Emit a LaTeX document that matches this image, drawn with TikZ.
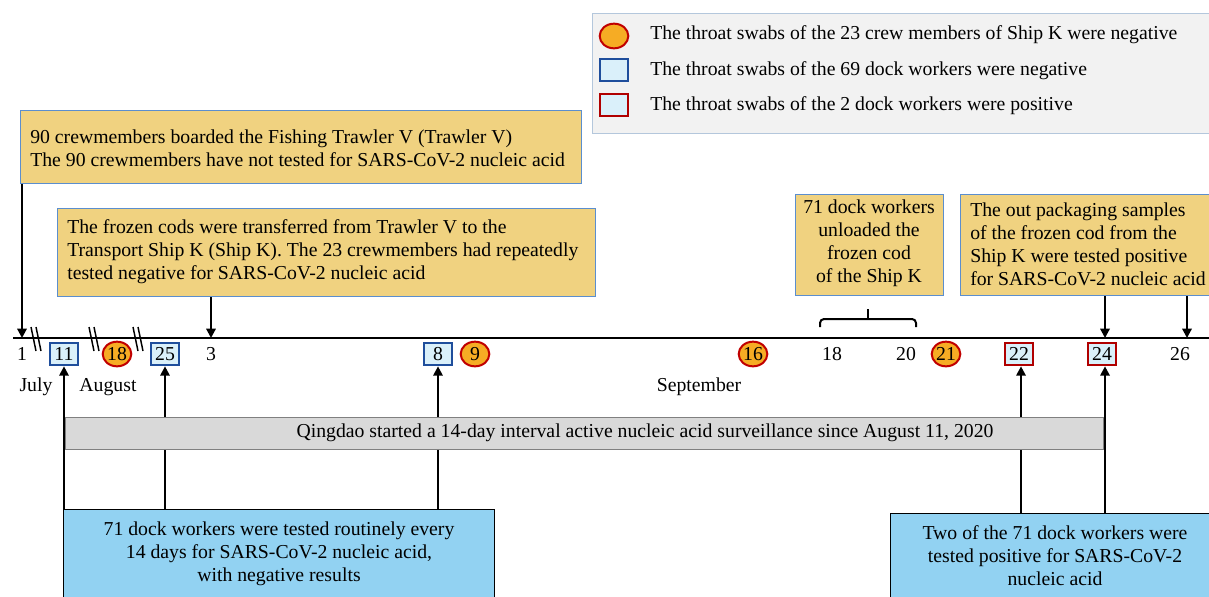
\documentclass[tikz,border=0pt]{standalone}
\usepackage{fontspec}
\setmainfont{Liberation Serif}
\usetikzlibrary{arrows.meta,shapes.geometric}
\definecolor{gold}{RGB}{240,210,128}
\definecolor{goldedge}{RGB}{91,142,206}
\definecolor{circfill}{RGB}{246,172,36}
\definecolor{circedge}{RGB}{192,0,0}
\definecolor{sqfill}{RGB}{218,240,250}
\definecolor{sqblue}{RGB}{31,78,156}
\definecolor{sqred}{RGB}{176,0,0}
\definecolor{skyfill}{RGB}{146,210,242}
\definecolor{barfill}{RGB}{217,217,217}
\definecolor{baredge}{RGB}{128,128,128}
\definecolor{legfill}{RGB}{242,242,242}
\definecolor{legedge}{RGB}{180,199,220}
\begin{document}
\begin{tikzpicture}[x=0.75pt,y=-0.75pt,
  font=\fontsize{14.8}{17.2}\selectfont,
  goldbox/.style={draw=goldedge,fill=gold,line width=0.8pt,anchor=north west,inner sep=0pt},
  skybox/.style={draw=black,fill=skyfill,line width=0.8pt,anchor=north west,inner sep=0pt},
  circmark/.style={ellipse,draw=circedge,fill=circfill,line width=1.5pt,minimum width=21.5pt,minimum height=18.5pt,inner sep=0pt},
  bluesq/.style={rectangle,draw=sqblue,fill=sqfill,line width=1.5pt,minimum width=21pt,minimum height=17pt,inner sep=0pt},
  redsq/.style={rectangle,draw=sqred,fill=sqfill,line width=1.5pt,minimum width=21pt,minimum height=17pt,inner sep=0pt},
  plain/.style={inner sep=0pt},
  arr/.style={line width=1.6pt,-{Triangle[length=7pt,width=7pt]}},
  brk/.style={line width=1.1pt},
]
\useasboundingbox (0,0) rectangle (1209,596);
\clip (0,0) rectangle (1209,596);

% legend
\node[draw=legedge,fill=legfill,line width=0.8pt,anchor=north west,minimum width=465pt,minimum height=90pt,inner sep=0pt] (legend) at (592,13) {};
\node[circmark] (lc) at (614,36) {};
\node[bluesq] (lb) at (614,70) {};
\node[redsq] (lr) at (614,105) {};
\node[plain,anchor=west] (lct) at (650,35) {The throat swabs of the 23 crew members of Ship K were negative};
\node[plain,anchor=west] (lbt) at (650,71) {The throat swabs of the 69 dock workers were negative};
\node[plain,anchor=west] (lrt) at (650,106) {The throat swabs of the 2 dock workers were positive};

% upper boxes
\node[goldbox,minimum width=420.75pt,minimum height=54.75pt] (b1) at (20,110) {};
\node[plain,anchor=west,align=left] (b1t) at (30,148)
  {90 crewmembers boarded the Fishing Trawler V (Trawler V)\\The 90 crewmembers have not tested for SARS-CoV-2 nucleic acid};
\node[goldbox,minimum width=403.5pt,minimum height=66pt] (b2) at (57,208) {};
\node[plain,anchor=west,align=left] (b2t) at (67,252)
  {The frozen cods were transferred from Trawler V to the\\Transport Ship K (Ship K). The 23 crewmembers had repeatedly\\tested negative for SARS-CoV-2 nucleic acid};
\node[goldbox,minimum width=111pt,minimum height=75.75pt] (b3) at (795,194) {};
\node[plain,align=center] (b3t) at (869,243)
  {71 dock workers\\unloaded the\\frozen cod\\of the Ship K};
\node[goldbox,minimum width=195pt,minimum height=75.75pt] (b4) at (960,194) {};
\node[plain,anchor=west,align=left] (b4t) at (970,244)
  {The out packaging samples\\of the frozen cod from the\\Ship K were tested positive\\for SARS-CoV-2 nucleic acid};

% timeline coordinates
\coordinate (tl0) at (13,338);
\coordinate (tl1) at (1209,338);
\coordinate (t1) at (22,338);
\coordinate (t3) at (211,338);
\coordinate (t24) at (1105,338);
\coordinate (t26) at (1187,338);

% bottom boxes
\node[skybox,minimum width=323.25pt,minimum height=70pt] (bl) at (63,509) {};
\node[plain,align=center] (blt) at (279,554) {71 dock workers were tested routinely every\\14 days for SARS-CoV-2 nucleic acid,\\with negative results};
\node[skybox,minimum width=241.5pt,minimum height=70pt] (br) at (890,513) {};
\node[plain,align=center] (brt) at (1055,556) {Two of the 71 dock workers were\\tested positive for SARS-CoV-2\\nucleic acid};

% tick labels
\node[plain] (d1) at (22,354) {1};
\node[bluesq] (d11) at (64,354) {11};
\node[circmark] (d18a) at (117,354) {18};
\node[bluesq] (d25) at (165,354) {25};
\node[plain] (d3) at (211,354) {3};
\node[bluesq] (d8) at (438,354) {8};
\node[circmark] (d9) at (475,354) {9};
\node[circmark] (d16) at (753,354) {16};
\node[plain] (d18) at (832,354) {18};
\node[plain] (d20) at (906,354) {20};
\node[circmark] (d21) at (946,354) {21};
\node[redsq] (d22) at (1019,354) {22};
\node[redsq] (d24) at (1102,354) {24};
\node[plain] (d26) at (1180,354) {26};

\node[plain] (mjul) at (36,387) {July};
\node[plain] (maug) at (108,387) {August};
\node[plain] (msep) at (699,387) {September};

% timeline
\draw[line width=2.2pt] (tl0) -- (tl1);
\foreach \x in {31,36,89,94,133,138}{
  \draw[brk] (\x,327) -- (\x+5,351);
}

% bracket
\coordinate (brL) at (820,327);
\coordinate (brR) at (916,327);
\coordinate (brC) at (868,309);
\draw[line width=1.5pt,rounded corners=3pt] (brL) -- (820,319) -- (916,319) -- (brR);
\draw[line width=1.5pt] (868,319) -- (brC);

% down arrows
\draw[arr] (b1.south west -| t1) -- (t1);
\draw[arr] (b2.south -| t3) -- (t3);
\draw[arr] (b4.south -| t24) -- (t24);
\draw[arr] (b4.south -| t26) -- (t26);

% up arrows
\draw[arr] (bl.north -| d11) -- (d11.south);
\draw[arr] (bl.north -| d25) -- (d25.south);
\draw[arr] (bl.north -| d8) -- (d8.south);
\draw[arr] ([xshift=1.5pt]br.north -| d22) -- ([xshift=1.5pt]d22.south);
\draw[arr] ([xshift=2.25pt]br.north -| d24) -- ([xshift=2.25pt]d24.south);

% surveillance bar
\node[draw=baredge,fill=barfill,line width=0.8pt,anchor=north west,minimum width=778.5pt,minimum height=24pt,inner sep=0pt] (bar) at (65,417) {};
\node[plain] (bart) at (645,433) {Qingdao started a 14-day interval active nucleic acid surveillance since August 11, 2020};
\end{tikzpicture}
\end{document}
